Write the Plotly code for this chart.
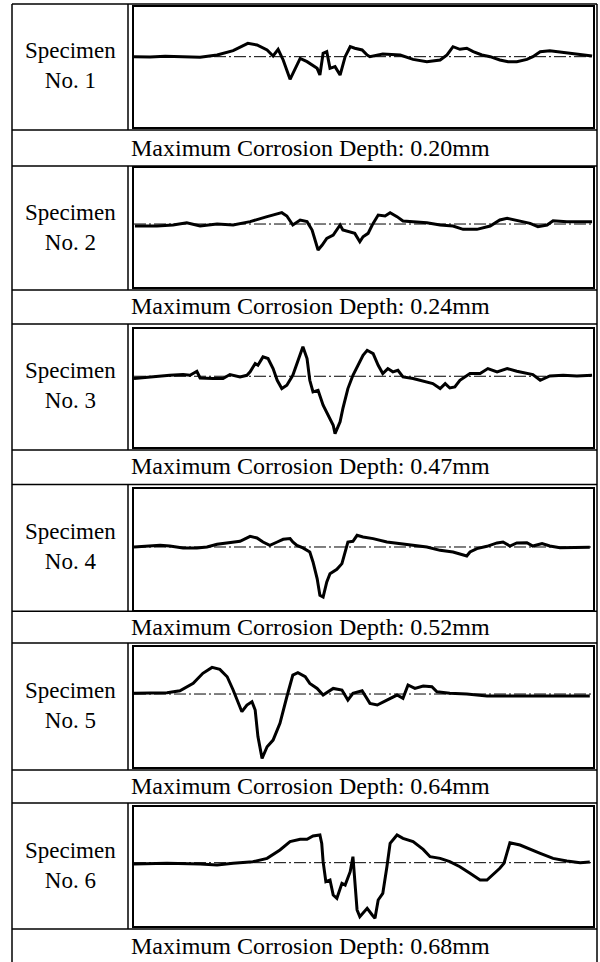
import plotly.graph_objects as go

# ---------------- data ----------------
specimen_labels = ["No. 1", "No. 2", "No. 3", "No. 4", "No. 5", "No. 6"]
max_depth_mm = [0.20, 0.24, 0.47, 0.52, 0.64, 0.68]

# position along the specimen (% of scanned length) and profile height (mm)
pos_1 = [0, 3.5, 6.8, 10.0, 14.4, 18.1, 21.6, 24.8, 26.8, 29.0, 30.3, 31.4, 32.5, 34.0, 35.1, 36.2,
         37.7, 39.9, 40.5, 41.2, 42.0, 42.7, 43.8, 44.9, 46.0, 47.1, 48.1, 49.7, 50.8, 51.4, 54.2,
         58.0, 60.8, 63.8, 66.7, 68.2, 69.5, 71.0, 72.5, 73.9, 75.8, 77.6, 79.7, 81.5, 83.4, 85.6,
         86.9, 88.5, 90.6, 93.5, 96.5, 99.8]
h_1 = [0, -0.003, 0.003, -0.003, -0.006, 0.015, 0.053, 0.118, 0.103, 0.059, 0.006, 0.065, -0.029,
       -0.200, -0.103, -0.015, -0.044, -0.103, -0.162, 0.029, 0.044, -0.103, -0.088, -0.162, 0.0,
       0.088, 0.074, 0.059, 0.015, 0.0, 0.024, 0.015, -0.024, -0.044, -0.029, 0.015, 0.088, 0.065,
       0.074, 0.044, 0.015, 0.0, -0.029, -0.044, -0.044, -0.024, 0.0, 0.044, 0.053, 0.038, 0.029, 0.006]

pos_2 = [0.2, 5.0, 8.5, 11.5, 14.4, 18.1, 21.6, 25.3, 29.0, 32.2, 33.3, 34.6, 36.2, 37.7, 38.8,
         40.1, 41.0, 42.0, 43.4, 44.9, 45.5, 47.1, 48.1, 49.2, 49.9, 51.0, 51.9, 53.2, 54.7, 55.8,
         57.3, 58.6, 60.8, 63.8, 66.7, 69.5, 71.7, 74.7, 77.6, 79.7, 81.3, 83.4, 86.3, 88.0, 90.0,
         91.3, 94.3, 97.2, 99.8]
h_2 = [-0.018, -0.018, -0.009, 0.012, -0.018, 0.0, -0.009, 0.022, 0.068, 0.105, 0.074, -0.009,
       0.037, 0.022, -0.055, -0.240, -0.194, -0.132, -0.102, -0.009, -0.055, -0.071, -0.086, -0.163,
       -0.117, -0.086, -0.009, 0.083, 0.074, 0.105, 0.068, 0.028, 0.022, 0.012, -0.009, -0.018,
       -0.049, -0.049, -0.018, 0.037, 0.052, 0.031, 0.006, -0.025, -0.009, 0.031, 0.022, 0.022, 0.022]

pos_3 = [0.0, 3.5, 7.8, 10.7, 12.2, 13.7, 14.4, 17.2, 19.4, 20.9, 23.1, 24.6, 25.3, 26.4, 27.0,
         28.1, 29.2, 30.3, 31.2, 32.2, 33.3, 34.6, 35.7, 36.8, 37.7, 38.3, 39.0, 40.1, 41.2, 42.3,
         43.4, 43.8, 44.9, 45.5, 46.6, 47.7, 48.8, 49.9, 50.8, 52.1, 53.2, 54.2, 55.3, 56.4, 57.5,
         58.6, 60.8, 63.0, 65.1, 66.7, 67.8, 68.8, 69.9, 71.0, 73.2, 75.4, 77.1, 79.1, 81.3, 83.4,
         85.6, 86.9, 88.5, 90.6, 93.5, 96.5, 99.8]
h_3 = [-0.019, -0.005, 0.008, 0.014, 0.008, 0.041, -0.014, -0.019, -0.019, 0.014, -0.005, 0.008,
       0.036, 0.104, 0.090, 0.159, 0.145, 0.063, -0.033, -0.101, -0.074, 0.008, 0.118, 0.241, 0.145,
       -0.033, -0.128, -0.115, -0.238, -0.320, -0.402, -0.470, -0.374, -0.265, -0.101, 0.008, 0.090,
       0.172, 0.213, 0.186, 0.090, 0.022, 0.063, 0.036, 0.049, -0.005, -0.019, -0.041, -0.060,
       -0.101, -0.060, -0.096, -0.087, -0.033, 0.022, 0.022, 0.063, 0.036, 0.063, 0.041, 0.022,
       0.014, -0.033, 0.003, 0.008, 0.003, 0.008]

pos_4 = [0.0, 3.5, 5.7, 7.8, 10.7, 13.7, 15.9, 18.1, 20.9, 23.1, 25.3, 26.8, 28.1, 29.6, 31.2,
         32.5, 34.0, 34.6, 35.5, 36.8, 38.3, 39.0, 39.9, 40.5, 41.2, 42.0, 42.7, 44.2, 45.3, 46.0,
         46.6, 47.7, 48.6, 49.9, 52.1, 55.1, 58.0, 60.8, 63.8, 66.7, 69.5, 72.5, 73.2, 74.7, 76.9,
         79.1, 80.4, 81.9, 83.4, 85.6, 86.9, 88.9, 90.6, 92.8, 95.0, 99.3]
h_4 = [0.0, 0.010, 0.017, 0.010, -0.010, -0.010, 0.0, 0.028, 0.042, 0.059, 0.111, 0.094, 0.052,
       0.017, 0.052, 0.080, 0.087, 0.052, 0.017, -0.010, -0.052, -0.156, -0.329, -0.503, -0.520,
       -0.364, -0.277, -0.232, -0.173, -0.052, 0.052, 0.059, 0.121, 0.104, 0.087, 0.052, 0.035,
       0.017, 0.0, -0.035, -0.052, -0.094, -0.052, -0.017, 0.007, 0.042, 0.052, 0.010, 0.042, 0.045,
       0.010, 0.035, 0.010, -0.007, -0.003, -0.003]

pos_5 = [0.0, 3.5, 7.2, 10.0, 12.9, 15.0, 17.0, 18.7, 20.3, 21.6, 22.7, 23.5, 24.6, 25.7, 26.4,
         27.0, 27.9, 29.0, 30.3, 31.8, 33.3, 34.6, 35.7, 37.3, 38.3, 39.9, 41.2, 43.4, 45.3, 46.6,
         47.7, 49.7, 51.4, 53.0, 55.1, 57.3, 58.6, 59.7, 61.2, 63.0, 64.9, 66.0, 68.8, 72.5, 76.9,
         81.3, 86.9, 92.8, 99.3]
h_5 = [0.007, 0.007, 0.013, 0.033, 0.106, 0.206, 0.265, 0.245, 0.172, 0.040, -0.076, -0.176,
       -0.109, -0.076, -0.159, -0.424, -0.640, -0.524, -0.458, -0.292, -0.027, 0.189, 0.212, 0.172,
       0.106, 0.056, -0.010, 0.056, 0.040, -0.060, 0.007, 0.033, -0.093, -0.109, -0.060, -0.010,
       -0.043, 0.090, 0.056, 0.080, 0.073, 0.023, 0.007, 0.0, -0.020, -0.020, -0.020, -0.013, -0.020]

pos_6 = [0.0, 7.2, 14.4, 18.1, 21.6, 25.9, 29.0, 31.8, 34.0, 36.2, 37.7, 39.0, 40.5, 40.9, 41.2,
         41.8, 42.7, 43.4, 44.2, 45.3, 46.0, 47.1, 47.7, 48.1, 48.6, 49.2, 50.8, 51.9, 52.5, 53.2,
         54.2, 55.1, 55.8, 57.3, 58.6, 60.8, 63.0, 64.5, 66.7, 68.8, 71.0, 73.2, 75.4, 76.9, 78.2,
         79.7, 80.6, 81.9, 84.1, 86.3, 88.5, 91.3, 94.3, 97.2, 99.3]
h_6 = [-0.016, -0.008, -0.016, -0.029, -0.008, 0.012, 0.053, 0.155, 0.257, 0.285, 0.285, 0.326,
       0.338, 0.236, 0.012, -0.232, -0.212, -0.395, -0.436, -0.252, -0.273, -0.110, 0.073, -0.273,
       -0.578, -0.660, -0.558, -0.639, -0.680, -0.456, -0.375, -0.049, 0.236, 0.338, 0.297, 0.257,
       0.163, 0.073, 0.053, 0.012, -0.049, -0.130, -0.212, -0.212, -0.151, -0.069, -0.008, 0.244,
       0.216, 0.163, 0.114, 0.053, 0.020, 0.0, 0.008]

positions = [pos_1, pos_2, pos_3, pos_4, pos_5, pos_6]
heights = [h_1, h_2, h_3, h_4, h_5, h_6]

# ---------------- layout geometry (pixels) ----------------
W, H = 600, 962
row_top = [4, 166, 324, 484.5, 643, 803]          # top rule of each block
box_top = [7, 168, 328.7, 488.7, 647.3, 807.3]     # plot frame top
box_bot = [127, 287, 447, 609.7, 766.7, 926]       # plot frame bottom
cap_top = [130, 290, 450, 611.3, 770, 929]         # rule between plot and caption
cap_mid = [148, 306, 466, 627, 786, 946]           # caption text centre
y_ranges = [[-0.620, 0.438], [-0.581, 0.517], [-0.580, 0.390],
            [-0.652, 0.606], [-0.723, 0.465], [-0.774, 0.677]]
BOX_L, BOX_R = 134, 593
TBL_L, TBL_R, COL_X = 12, 597, 128


def fx(px):
    return px / W


def fy(py):
    return 1 - py / H


LABEL_FONT = dict(family="Liberation Serif, DejaVu Serif, serif", size=23, color="black")
CAP_FONT = dict(family="Liberation Serif, DejaVu Serif, serif", size=24, color="black")

fig = go.Figure()
layout = dict(width=W, height=H, margin=dict(l=0, r=0, t=0, b=0),
              paper_bgcolor="white", plot_bgcolor="white", showlegend=False)
shapes, annotations = [], []

for i in range(6):
    n = "" if i == 0 else str(i + 1)
    xa, ya = "x" + n, "y" + n
    # zero reference line (dash-dot)
    fig.add_trace(go.Scatter(x=[0, 100], y=[0, 0], mode="lines", xaxis=xa, yaxis=ya,
                             line=dict(color="black", width=1, dash="12px,3px,2px,3px"),
                             hoverinfo="skip"))
    fig.add_trace(go.Scatter(x=positions[i], y=heights[i], mode="lines", xaxis=xa, yaxis=ya,
                             line=dict(color="black", width=3), name="Specimen " + specimen_labels[i]))
    axis_style = dict(showgrid=False, zeroline=False, showticklabels=False, ticks="",
                      showline=True, linecolor="black", linewidth=2, mirror=True, fixedrange=True)
    layout["xaxis" + n] = dict(axis_style, domain=[fx(BOX_L), fx(BOX_R)], range=[0, 100], anchor=ya)
    layout["yaxis" + n] = dict(axis_style, domain=[fy(box_bot[i]), fy(box_top[i])],
                               range=y_ranges[i], anchor=xa)

    # table rules
    for yy in (row_top[i], cap_top[i]):
        shapes.append(dict(type="line", xref="paper", yref="paper", x0=fx(TBL_L), x1=fx(TBL_R),
                           y0=fy(yy), y1=fy(yy), line=dict(color="black", width=1.5)))
    shapes.append(dict(type="line", xref="paper", yref="paper", x0=fx(COL_X), x1=fx(COL_X),
                       y0=fy(row_top[i]), y1=fy(cap_top[i]), line=dict(color="black", width=1.5)))

    annotations.append(dict(xref="paper", yref="paper", x=fx(70),
                            y=fy((row_top[i] + cap_top[i]) / 2 - 1),
                            text="Specimen<br>" + specimen_labels[i], showarrow=False,
                            xanchor="center", yanchor="middle", align="center", font=LABEL_FONT))
    annotations.append(dict(xref="paper", yref="paper", x=fx(310), y=fy(cap_mid[i]),
                            text="Maximum Corrosion Depth: %.2fmm" % max_depth_mm[i], showarrow=False,
                            xanchor="center", yanchor="middle", font=CAP_FONT))

for xx in (TBL_L, TBL_R):
    shapes.append(dict(type="line", xref="paper", yref="paper", x0=fx(xx), x1=fx(xx),
                       y0=fy(row_top[0]), y1=0, line=dict(color="black", width=1.5)))

layout["shapes"] = shapes
layout["annotations"] = annotations
fig.update_layout(**layout)
fig.write_html("out.html", config={"displayModeBar": False},
               post_script="document.body.style.margin='0px';"
                           "document.documentElement.style.overflow='hidden';")
